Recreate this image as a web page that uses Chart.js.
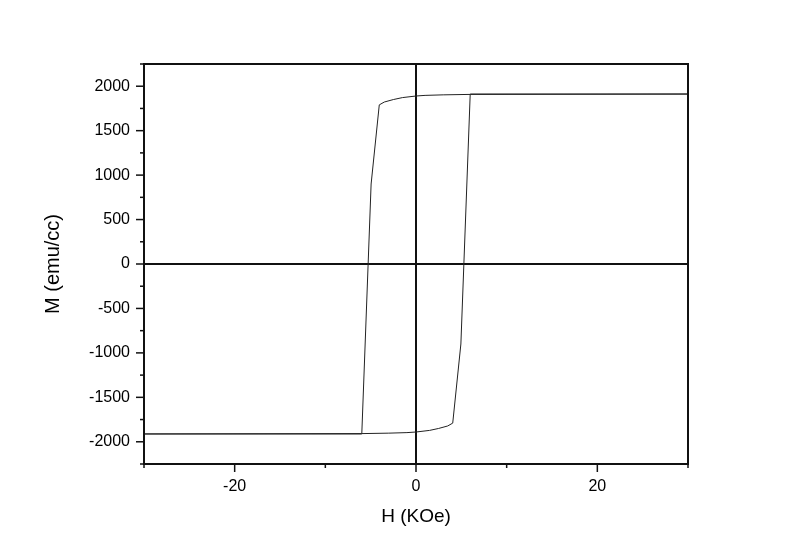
<!DOCTYPE html>
<html>
<head>
<meta charset="utf-8">
<script src="https://cdn.jsdelivr.net/npm/chart.js@4/dist/chart.umd.min.js"></script>
<style>
    body { margin: 0; background: #fff; }
    #wrap { width: 800px; height: 558px; }
</style>
</head>
<body>
<div id="wrap"><canvas id="loop" width="800" height="558"></canvas></div>
<script>
// descending branch (from +30 KOe down to -30 KOe)
let descH = [30, 6, 3, 1, 0, -1.5, -2.5, -3.5, -4.05, -4.95, -5.98, -30];
let descM = [1912, 1908, 1903, 1897, 1890, 1872, 1850, 1822, 1790, 900, -1912, -1912];
// ascending branch (from -30 KOe up to +30 KOe)
let ascH = [-30, -6, -3, -1, 0, 1.5, 2.5, 3.5, 4.05, 4.95, 5.98, 30];
let ascM = [-1912, -1908, -1903, -1897, -1890, -1872, -1850, -1822, -1790, -900, 1912, 1912];

let xTicks = [-20, 0, 20];
let yTicks = [-2000, -1500, -1000, -500, 0, 500, 1000, 1500, 2000];

let fontFamily = "'Liberation Sans', Arial, sans-serif";

let toPoints = (hs, ms) => hs.map((h, i) => ({x: h, y: ms[i]}));

let zeroLine = (ctx) => ctx.tick && ctx.tick.value === 0 ? '#111' : 'rgba(0,0,0,0)';

// minor/major tick marks + frame box
let frameTicks = {
    id: 'frameTicks',
    afterDraw(chart) {
        let c = chart.ctx;
        let area = chart.chartArea;
        let sx = chart.scales.x;
        let sy = chart.scales.y;
        c.save();
        c.strokeStyle = '#111';
        c.lineWidth = 2;
        c.strokeRect(area.left, area.top, area.right - area.left, area.bottom - area.top);
        c.lineWidth = 1.5;
        sx.ticks.forEach(t => {
            let px = sx.getPixelForValue(t.value);
            let len = xTicks.includes(t.value) ? 8 : 4;
            c.beginPath();
            c.moveTo(px, area.bottom);
            c.lineTo(px, area.bottom + len);
            c.stroke();
        });
        sy.ticks.forEach(t => {
            let py = sy.getPixelForValue(t.value);
            let len = yTicks.includes(t.value) ? 8 : 4;
            c.beginPath();
            c.moveTo(area.left, py);
            c.lineTo(area.left - len, py);
            c.stroke();
        });
        c.restore();
    }
};

new Chart(document.getElementById('loop').getContext('2d'), {
    type: 'scatter',
    data: {
        datasets: [{
            data: toPoints(descH, descM),
            showLine: true,
            borderColor: '#222',
            borderWidth: 1,
            pointRadius: 0,
            tension: 0
        }, {
            data: toPoints(ascH, ascM),
            showLine: true,
            borderColor: '#222',
            borderWidth: 1,
            pointRadius: 0,
            tension: 0
        }]
    },
    options: {
        responsive: false,
        animation: false,
        layout: {
            padding: {top: 64, right: 112, left: 0, bottom: 0}
        },
        plugins: {
            legend: {display: false},
            tooltip: {enabled: false}
        },
        scales: {
            x: {
                type: 'linear',
                min: -30,
                max: 30,
                afterFit: (scale) => { scale.height = 94; },
                afterBuildTicks: (scale) => {
                    scale.ticks = [-30, -20, -10, 0, 10, 20, 30].map(v => ({value: v}));
                },
                ticks: {
                    autoSkip: false,
                    maxRotation: 0,
                    padding: 5,
                    color: '#000',
                    font: {family: fontFamily, size: 16},
                    callback: (v) => xTicks.includes(v) ? String(v) : ''
                },
                grid: {
                    color: zeroLine,
                    lineWidth: 2,
                    tickLength: 8,
                    tickColor: 'rgba(0,0,0,0)'
                },
                border: {display: true, color: '#111', width: 2},
                title: {
                    display: true,
                    text: 'H (KOe)',
                    color: '#000',
                    font: {family: fontFamily, size: 19},
                    padding: {top: 0, bottom: 30}
                }
            },
            y: {
                type: 'linear',
                min: -2250,
                max: 2250,
                afterFit: (scale) => { scale.width = 144; },
                ticks: {
                    stepSize: 250,
                    autoSkip: false,
                    padding: 6,
                    color: '#000',
                    font: {family: fontFamily, size: 16},
                    callback: (v) => yTicks.includes(v) ? String(v) : ''
                },
                grid: {
                    color: zeroLine,
                    lineWidth: 2,
                    tickLength: 8,
                    tickColor: 'rgba(0,0,0,0)'
                },
                border: {display: true, color: '#111', width: 2},
                title: {
                    display: true,
                    text: 'M (emu/cc)',
                    color: '#000',
                    font: {family: fontFamily, size: 20},
                    padding: {top: 41, bottom: 0}
                }
            }
        }
    },
    plugins: [frameTicks]
});
</script>
</body>
</html>
